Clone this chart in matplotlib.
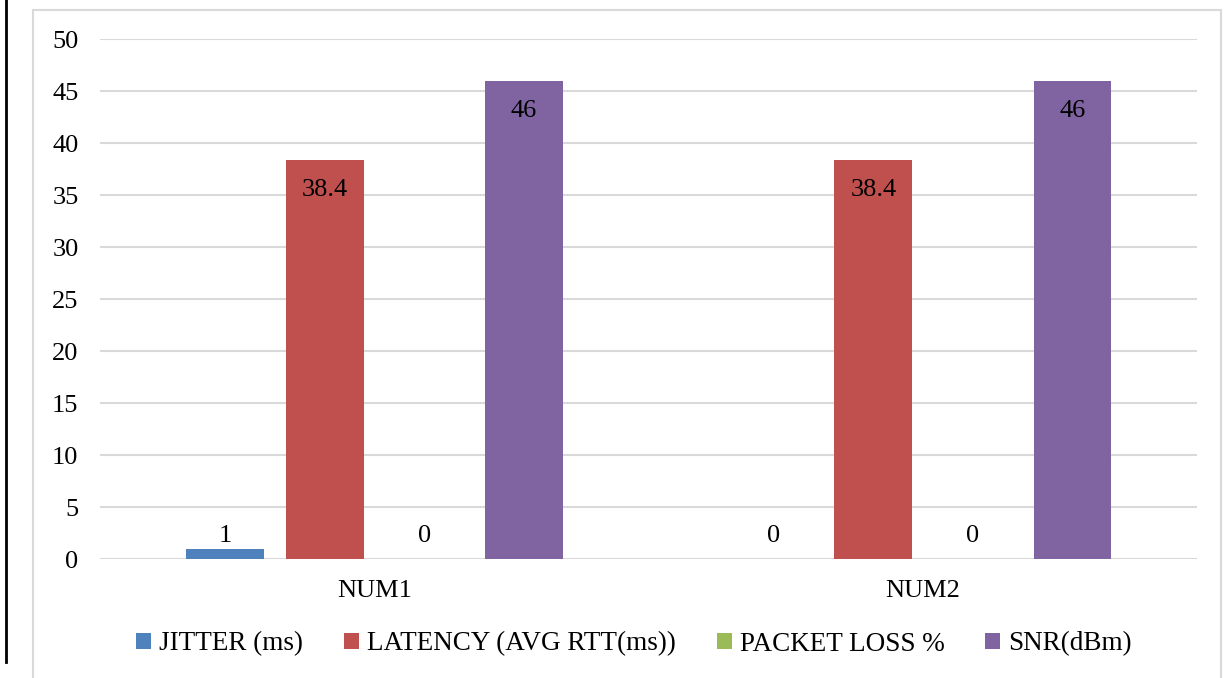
import numpy as np
import matplotlib
matplotlib.use('Agg')
import matplotlib.pyplot as plt
from matplotlib.patches import Rectangle
from matplotlib.lines import Line2D

# data
categories = ['NUM1', 'NUM2']
series_names = ['JITTER (ms)', 'LATENCY (AVG RTT(ms))', 'PACKET LOSS %', 'SNR(dBm)']
jitter = [1, 0]
latency = [38.4, 38.4]
packet_loss = [0, 0]
snr = [46, 46]
colors = ['#4F81BD', '#C0504D', '#9BBB59', '#8064A2']

plt.rcParams['font.family'] = ['Liberation Serif', 'DejaVu Serif']
FS = 19

W, H = 1226, 678
fig = plt.figure(figsize=(W / 100, H / 100), dpi=100)

# outer chart frame and black left line
fig.patches.append(Rectangle((33 / W, -0.05), (1221 - 33) / W, 1 - 10 / H + 0.05,
                             transform=fig.transFigure, fill=False,
                             edgecolor='#d9d9d9', linewidth=1.5))
fig.lines.append(Line2D([6 / W, 6 / W], [1, 1 - 662 / H], transform=fig.transFigure,
                        color='black', linewidth=2))

ax = fig.add_axes([100 / W, 1 - 559 / H, (1197 - 100) / W, (559 - 39) / H])

x = np.arange(len(categories))
all_series = [jitter, latency, packet_loss, snr]
width = 0.142
offsets = [-0.272, -0.09, 0.091, 0.273]

for vals, name, col, off in zip(all_series, series_names, colors, offsets):
    bars = ax.bar(x + off, vals, width, color=col, label=name, zorder=3)
    for b, v in zip(bars, vals):
        txt = f'{v:g}'
        cx = b.get_x() + b.get_width() / 2
        if v > 5:
            ax.text(cx, v - 1.85, txt, ha='center', va='top', fontsize=FS, zorder=4)
        else:
            # small values: label sits just above the baseline area
            ax.text(cx, 1.6, txt, ha='center', va='baseline', fontsize=FS, zorder=4)

ax.set_xlim(-0.5, 1.5)
ax.set_ylim(0, 50)
ax.set_yticks(range(0, 51, 5))
ax.set_xticks(x)
ax.set_xticklabels(categories)
ax.grid(axis='y', color='#d9d9d9', linewidth=1.5, zorder=0)
ax.set_axisbelow(True)
for s in ax.spines.values():
    s.set_visible(False)
ax.tick_params(axis='both', length=0, labelsize=FS)
ax.tick_params(axis='y', pad=15.5)
ax.tick_params(axis='x', pad=15)

fig.legend(loc='center', bbox_to_anchor=(634 / W, 1 - 644 / H), ncol=4, frameon=False,
           fontsize=19.5, handlelength=0.56, handleheight=0.56, handletextpad=0.3,
           columnspacing=1.5)

plt.savefig('out.png', dpi=100)
